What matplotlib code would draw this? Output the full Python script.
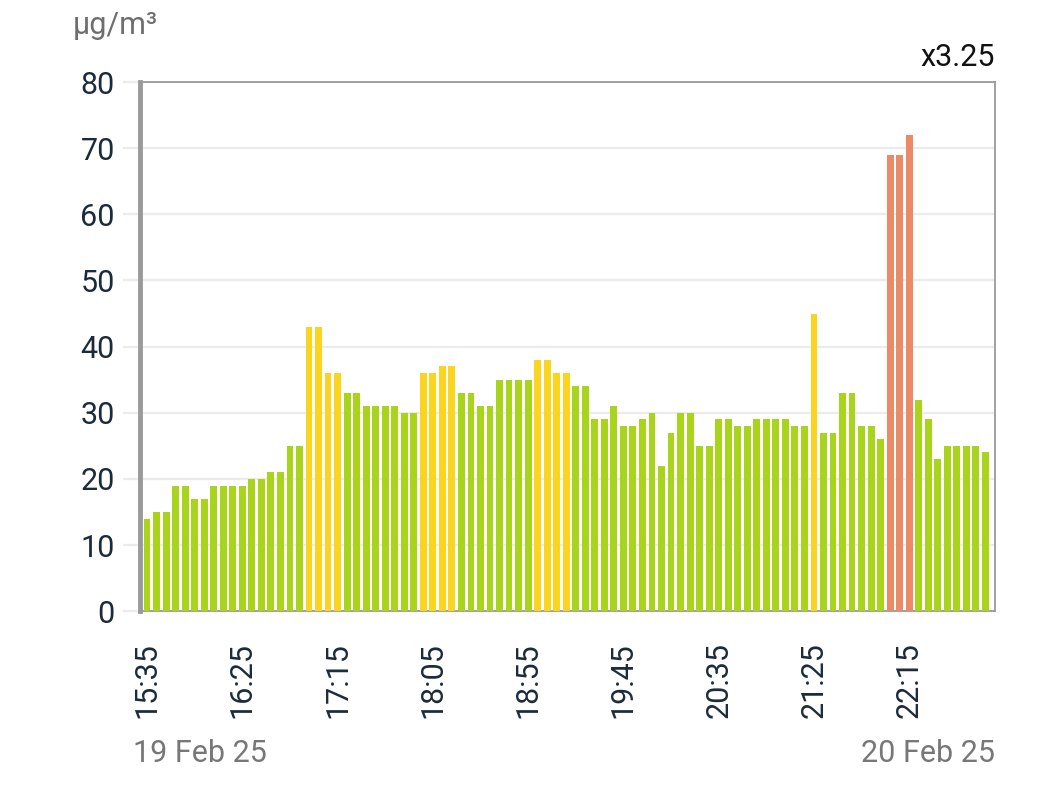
import numpy as np
import matplotlib
matplotlib.use('Agg')
import matplotlib.pyplot as plt

plt.rcParams['font.family'] = ['Roboto', 'DejaVu Sans']

# PM readings, one bar every 5 minutes starting 15:35
values = [14, 15, 15, 19, 19, 17, 17, 19, 19, 19,
          19, 20, 20, 21, 21, 25, 25, 43, 43, 36,
          36, 33, 33, 31, 31, 31, 31, 30, 30, 36,
          36, 37, 37, 33, 33, 31, 31, 35, 35, 35,
          35, 38, 38, 36, 36, 34, 34, 29, 29, 31,
          28, 28, 29, 30, 22, 27, 30, 30, 25, 25,
          29, 29, 28, 28, 29, 29, 29, 29, 28, 28,
          45, 27, 27, 33, 33, 28, 28, 26, 69, 69,
          72, 32, 29, 23, 25, 25, 25, 25, 24]
tick_idx = [0, 10, 20, 30, 40, 50, 60, 70, 80]
tick_labels = ['15:35', '16:25', '17:15', '18:05', '18:55',
               '19:45', '20:35', '21:25', '22:15']
y_ticks = [0, 10, 20, 30, 40, 50, 60, 70, 80]

green = '#a8d41c'
yellow = '#fad41e'
red = '#ea8a66'

def level_color(v):
    if v > 50:
        return red
    if v >= 36:
        return yellow
    return green

colors = [level_color(v) for v in values]
x = np.arange(len(values))

fig = plt.figure(figsize=(10.54, 8), dpi=100)
ax = fig.add_axes([0.1328, 0.236, 0.8112, 0.6615])

ax.bar(x, values, width=0.72, color=colors, zorder=3)

ax.set_xlim(-0.74, 89.0)
ax.set_ylim(0, 80)
ax.set_yticks(y_ticks)
ax.set_xticks(tick_idx)
ax.set_xticklabels(tick_labels, rotation=90)
ax.grid(axis='y', color='#ebebeb', linewidth=1.6, zorder=0)

ax.tick_params(axis='y', length=12, width=1.6, color='#ebebeb', pad=6,
               labelsize=22, labelcolor='#1c2b3c')
ax.tick_params(axis='x', length=0, pad=22, labelsize=22, labelcolor='#1c2b3c')

for side in ['top', 'right', 'bottom']:
    ax.spines[side].set_color('#9a9a9a')
    ax.spines[side].set_linewidth(1.3)
ax.spines['left'].set_color('#9a9a9a')
ax.spines['left'].set_linewidth(3.5)
ax.spines['left'].set_zorder(4)

fig.text(0.069, 0.957, 'µg/m³', fontsize=22, color='#6e6e6e', ha='left', va='baseline')
fig.text(0.944, 0.918, 'x3.25', fontsize=22, color='#111111', ha='right', va='baseline')
fig.text(0.126, 0.047, '19 Feb 25', fontsize=22, color='#777777', ha='left', va='baseline')
fig.text(0.944, 0.047, '20 Feb 25', fontsize=22, color='#777777', ha='right', va='baseline')

fig.savefig('out.png', dpi=100)
